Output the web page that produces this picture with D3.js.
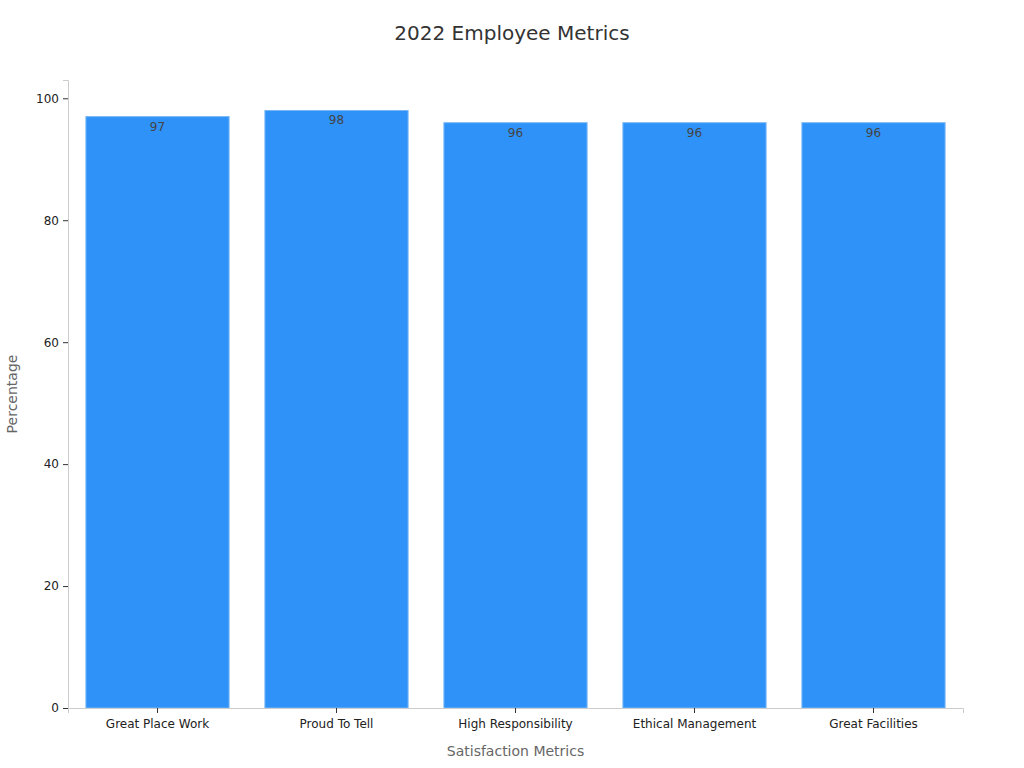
<!DOCTYPE html>
<html>
<head>
<meta charset="utf-8">
<script src="https://cdn.jsdelivr.net/npm/d3@7"></script>
<style>
  body { margin: 0; background: #fff; }
  svg { font-family: "DejaVu Sans", sans-serif; }
</style>
</head>
<body>
<svg width="1024" height="768"></svg>
<script>
// chart data
var categories = ['Great Place Work', 'Proud To Tell', 'High Responsibility', 'Ethical Management', 'Great Facilities'];
var values = [97, 98, 96, 96, 96];
var yTicks = [0, 20, 40, 60, 80, 100];

var svg = d3.select('svg');
var margin = {top: 80, right: 61, bottom: 60, left: 68};
var w = 1024 - margin.left - margin.right;
var h = 768 - margin.top - margin.bottom;

var g = svg.append('g').attr('transform', 'translate(' + margin.left + ',' + margin.top + ')');

var x = d3.scaleBand().domain(categories).range([0, w]).paddingInner(0.2).paddingOuter(0.1);
var y = d3.scaleLinear().domain([0, 103]).range([h, 0]);

svg.append('text')
    .attr('x', 512).attr('y', 40)
    .attr('text-anchor', 'middle')
    .attr('font-size', 20)
    .attr('fill', '#333')
    .text('2022 Employee Metrics');

// bars
g.selectAll('rect.bar')
    .data(values)
    .enter()
    .append('rect')
        .attr('class', 'bar')
        .attr('x', function(d, i) { return x(categories[i]) })
        .attr('y', function(d) { return y(d) })
        .attr('width', x.bandwidth())
        .attr('height', function(d) { return h - y(d) })
        .attr('fill', '#2f92f8')
        .attr('stroke', '#7ab8f5')
        .attr('stroke-width', 1);

g.selectAll('text.val')
    .data(values)
    .enter()
    .append('text')
        .attr('class', 'val')
        .attr('x', function(d, i) { return x(categories[i]) + x.bandwidth() / 2 })
        .attr('y', function(d) { return y(d) + 14 })
        .attr('text-anchor', 'middle')
        .attr('font-size', 12)
        .attr('fill', '#444')
        .text(function(d) { return d });

// axes
var xAxis = g.append('g').attr('transform', 'translate(0,' + h + ')')
    .call(d3.axisBottom(x).tickSize(5).tickPadding(6));
var yAxis = g.append('g')
    .call(d3.axisLeft(y).tickValues(yTicks).tickSize(5).tickPadding(4));

[xAxis, yAxis].forEach(function(a) {
    a.select('.domain').attr('stroke', '#ccc');
    a.selectAll('.tick line').attr('stroke', '#333');
    a.selectAll('.tick text').attr('font-size', 12).attr('fill', '#222')
        .attr('font-family', '"DejaVu Sans", sans-serif');
});

svg.append('text')
    .attr('x', margin.left + w / 2).attr('y', 756)
    .attr('text-anchor', 'middle')
    .attr('font-size', 14)
    .attr('fill', '#666')
    .text('Satisfaction Metrics');

svg.append('text')
    .attr('transform', 'translate(17,394) rotate(-90)')
    .attr('text-anchor', 'middle')
    .attr('font-size', 14)
    .attr('fill', '#666')
    .text('Percentage');
</script>
</body>
</html>
